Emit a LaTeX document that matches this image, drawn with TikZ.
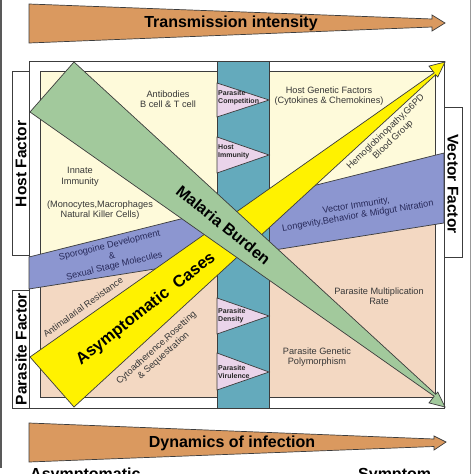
\documentclass[tikz,border=0pt]{standalone}
\usepackage{fontspec}
\setmainfont{Liberation Sans}
\usepackage{tikz}
\tikzset{>=latex}

\definecolor{arroworange}{RGB}{218,153,95}
\definecolor{creamfill}{RGB}{254,250,218}
\definecolor{peachfill}{RGB}{243,216,194}
\definecolor{bandblue}{RGB}{140,150,208}
\definecolor{columnteal}{RGB}{100,170,188}
\definecolor{burdengreen}{RGB}{162,201,156}
\definecolor{caseyellow}{RGB}{255,242,0}
\definecolor{trianglepink}{RGB}{234,212,234}
\definecolor{linegray}{RGB}{60,60,60}
\definecolor{textgray}{RGB}{55,55,55}
\definecolor{bandtext}{RGB}{40,42,90}

\tikzset{
  outline/.style={draw=linegray, line width=0.7pt},
  bigtext/.style={font=\bfseries\fontsize{16}{18}\selectfont, text=black, inner sep=0pt},
  sidetext/.style={font=\bfseries\fontsize{15.5}{17}\selectfont, text=black, inner sep=0pt},
  bodytext/.style={font=\fontsize{9.2}{10.5}\selectfont, text=textgray, align=center, inner sep=0pt},
  pinktext/.style={font=\bfseries\fontsize{7}{8}\selectfont, text=black!85, align=left, inner sep=0pt, anchor=west}
}

\begin{document}
\begin{tikzpicture}[x=1pt,y=-1pt]
                \useasboundingbox (0,0) rectangle (474,474);
                \clip (0,0) rectangle (474,474);
                \fill[white] (0,0) rectangle (474,474);
                \draw[gray!70!black, line width=2.4pt] (1.2,0) -- (1.2,468);
                \draw[gray!80, line width=1.5pt] (470.5,0) -- (470.5,474);
                % top and bottom arrows
                \draw[outline, fill=arroworange] (29,4) -- (432,19) -- (432,15) -- (445,23) -- (432,31) -- (432,27) -- (29,43) -- cycle;
                \node[bigtext] (transtext) at (231,27) [anchor=base] {Transmission intensity};
                \draw[outline, fill=arroworange] (29,423) -- (434,439) -- (434,436) -- (446,442) -- (434,450) -- (434,446.5) -- (29,462) -- cycle;
                \node[bigtext] (dyntext) at (232,447) [anchor=base] {Dynamics of infection};
                \node[bigtext] (asymptext) at (30,479.5) [anchor=base west] {Asymptomatic};
                \node[bigtext] (symptext) at (358,479.5) [anchor=base west] {Symptom};
                % side labels
                \draw[outline, fill=white] (12,71) rectangle (29,255);
                \node[sidetext, rotate=90] (hostlabel) at (21,164) {Host Factor};
                \draw[outline, fill=white] (12,290) rectangle (29,408);
                \node[sidetext, rotate=90] (parasitelabel) at (21,349) {Parasite Factor};
                \draw[outline, fill=white] (444,107) rectangle (462,257);
                \node[sidetext, rotate=-90] (vectorlabel) at (453,184) {Vector Factor};
                % frame and panel
                \draw[outline, fill=white] (29,61) rectangle (444,408);
                \fill[peachfill] (40,71) rectangle (435,397);
                \fill[creamfill] (40,71) -- (435,71) -- (435,190) -- (40,270) -- cycle;
                \draw[outline] (40,71) rectangle (435,397);
                \draw[outline, fill=bandblue] (29,257) -- (444,153) -- (444,223) -- (29,289) -- cycle;
                \draw[outline, fill=columnteal] (217,61) rectangle (269,408);
                \draw[outline, fill=trianglepink] (217,83) -- (269,100) -- (217,117) -- cycle;
                \draw[outline, fill=trianglepink] (217,137) -- (269,155) -- (217,173) -- cycle;
                \draw[outline, fill=trianglepink] (217,298) -- (269,316) -- (217,334) -- cycle;
                \draw[outline, fill=trianglepink] (217,353) -- (269,372) -- (217,390) -- cycle;
                \node[pinktext] (competition) at (218,97.5) {Parasite\\Competition};
                \node[pinktext] (hostimmunity) at (218,152) {Host\\Immunity};
                \node[pinktext] (density) at (218,316) {Parasite\\Density};
                \node[pinktext] (virulence) at (218,371.5) {Parasite\\Virulence};
                % crossing wedges
                \draw[outline, fill=caseyellow] (30,357) -- (434.2,72.8) -- (429,66.1) -- (445,62) -- (437.8,76.9) -- (435.7,74.7) -- (74,407) -- cycle;
                \draw[outline, fill=burdengreen] (74,62) -- (435.7,394.3) -- (437.8,392.1) -- (445,407) -- (429,402.9) -- (434.2,396.2) -- (30,112) -- cycle;
                \node[bigtext, rotate=-39] (burden) at (223.5,225) {Malaria Burden};
                \node[bigtext, font=\bfseries\fontsize{16.5}{18}\selectfont, rotate=38] (asymptomatic) at (146,309) {Asymptomatic\ \ Cases};
                % panel texts
                \node[bodytext] (antibodies) at (168,99) {Antibodies\\B cell \& T cell};
                \node[bodytext] (hostgenetic) at (329,96) {Host Genetic Factors\\(Cytokines \& Chemokines)};
                \node[bodytext] (innate) at (80,177) {Innate\\Immunity};
                \node[bodytext] (monocytes) at (100,210) {(Monocytes,Macrophages\\Natural Killer Cells)};
                \node[bodytext, rotate=44] (hemoglobin) at (389.5,136) {Hemoglobinopathy,G6PD\\Blood Group};
                \node[bodytext, text=bandtext, rotate=9.4] (vectorimm) at (357,211) {Vector Immunity,\\Longevity,Behavior \& Midgut Nitration};
                \node[bodytext, text=bandtext, rotate=13.5] (sporogony) at (112,256) {Sporogoine Development\\\&\\Sexual Stage Molecules};
                \node[bodytext, rotate=36] (antimalarial) at (83,307) {Antimalarial Resistance};
                \node[bodytext, rotate=42] (cytoadherence) at (160,352) {Cytoadherence,Rosetting\\\& Sequestration};
                \node[bodytext] (multiplication) at (379,296) {Parasite Multiplication\\Rate};
                \node[bodytext] (polymorphism) at (317,357) {Parasite Genetic\\Polymorphism};
            \end{tikzpicture}
\end{document}
